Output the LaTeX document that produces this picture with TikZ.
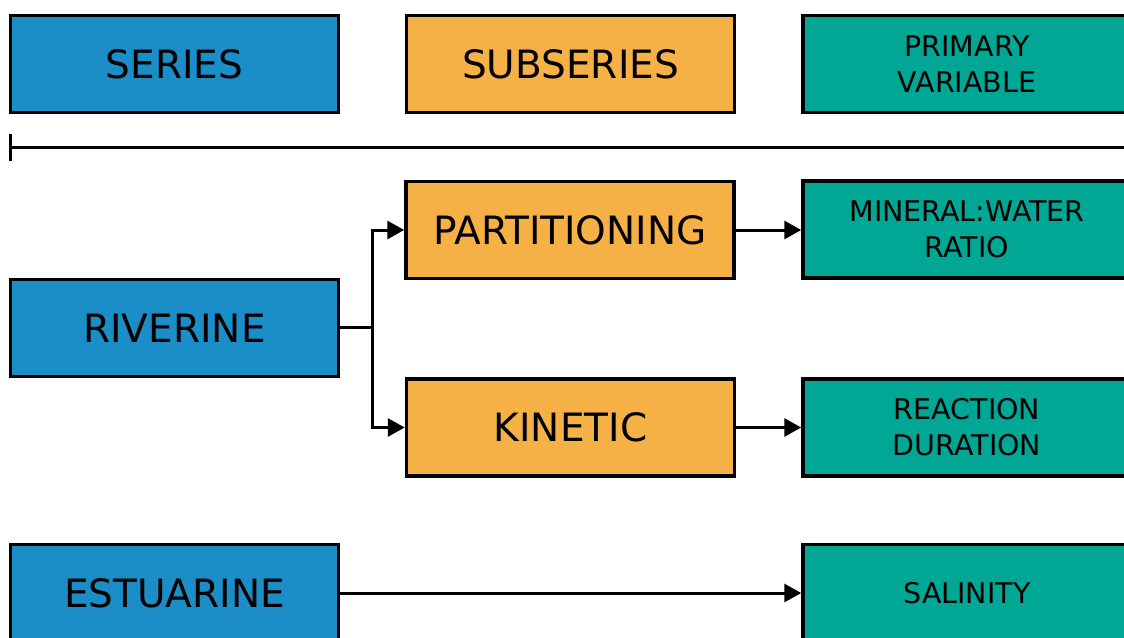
\documentclass[tikz,border=0pt]{standalone}
\usepackage{fontspec}
\setmainfont{DejaVu Sans}
\usetikzlibrary{arrows.meta}
\definecolor{cblue}{RGB}{27,141,199}
\definecolor{corange}{RGB}{246,177,70}
\definecolor{cteal}{RGB}{0,167,149}
\tikzset{
  box/.style={draw=black, line width=3.5pt, minimum width=328pt, minimum height=97pt, inner sep=0pt, align=center, text=black},
  bigtxt/.style={font=\fontsize{39}{42}\selectfont},
  smalltxt/.style={font=\fontsize{28.5}{36}\selectfont},
  serbox/.style={box, fill=cblue, bigtxt},
  subbox/.style={box, fill=corange, bigtxt},
  varbox/.style={box, fill=cteal, smalltxt},
  conn/.style={line width=3pt},
  arr/.style={conn, -{Triangle[length=17pt,width=18pt]}},
}
\begin{document}
\begin{tikzpicture}[x=1pt,y=-1pt]
\clip (0,0) rectangle (1124,637);
\fill[white] (0,0) rectangle (1124,637);
% header row
\node[serbox] (hser) at (174.5,64) {SERIES};
\node[subbox] (hsub) at (570.5,64) {SUBSERIES};
\node[varbox] (hvar) at (967,64) {PRIMARY\\VARIABLE};
% divider
\coordinate (dl) at (9,147);
\coordinate (dr) at (1130,147);
\draw[conn, {Bar[width=27pt,line width=3pt]}-] (dl) -- (dr);
% riverine
\node[serbox] (riv) at (174.5,328) {RIVERINE};
\node[subbox] (part) at (570,230) {PARTITIONING};
\node[subbox] (kin) at (570.5,427.5) {KINETIC};
\node[varbox] (mw) at (967,229.5) {MINERAL:WATER\\RATIO};
\node[varbox] (rd) at (967,427.5) {REACTION\\DURATION};
\coordinate (j) at (372,327);
\draw[conn] (riv.east |- j) -- (j);
\draw[arr] (j) |- (part.west);
\draw[arr] (j) |- (kin.west);
\draw[arr] (part.east) -- (part.east -| mw.west);
\draw[arr] (kin.east) -- (kin.east -| rd.west);
% estuarine
\node[serbox] (est) at (174.5,593) {ESTUARINE};
\node[varbox] (sal) at (967,593) {SALINITY};
\draw[arr] (est.east) -- (sal.west);
\end{tikzpicture}
\end{document}
